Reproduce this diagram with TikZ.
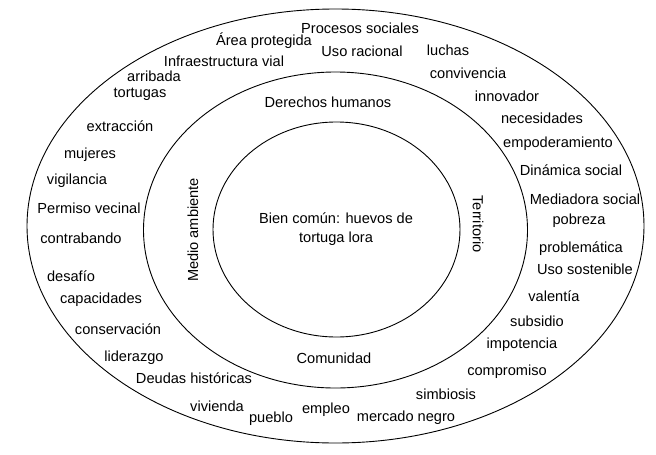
\documentclass[tikz,border=0pt]{standalone}
\usepackage{fontspec}
\setmainfont{Liberation Sans}
\begin{document}
\begin{tikzpicture}[x=1pt,y=-1pt,
	word/.style={inner sep=0pt,font=\fontsize{14.6}{19}\selectfont},
	ring/.style={black,line width=0.9pt}]
	\useasboundingbox (0,0) rectangle (656,455);
	% the three circles
	\draw [ring] (335.5,226) ellipse (308.5 and 217);
	\draw [ring] (335.5,230) ellipse (192 and 158);
	\draw [ring] (336.5,229.5) ellipse (123.5 and 107.5);
	% centre
	\node [word,align=center] (bien) at (336,229) {Bien común: huevos de\\tortuga lora};
	% middle ring
	\node [word] (derechos) at (328,102) {Derechos humanos};
	\node [word] (comunidad) at (334,358) {Comunidad};
	\node [word,rotate=90] (medio) at (193,230) {Medio ambiente};
	\node [word,rotate=-90] (territorio) at (478,224) {Territorio};
	% outer ring, left side
	\node [word] (procesos) at (360,28) {Procesos sociales};
	\node [word] (area) at (264,41) {Área protegida};
	\node [word] (uso) at (362,51) {Uso racional};
	\node [word] (infra) at (224,61) {Infraestructura vial};
	\node [word] (arribada) at (154,76) {arribada};
	\node [word] (tortugas) at (140,94) {tortugas};
	\node [word] (extraccion) at (120,126) {extracción};
	\node [word] (mujeres) at (90,155) {mujeres};
	\node [word] (vigilancia) at (77,181) {vigilancia};
	\node [word] (permiso) at (89,208) {Permiso vecinal};
	\node [word] (contrabando) at (81,238) {contrabando};
	\node [word] (desafio) at (71,276) {desafío};
	\node [word] (capacidades) at (101,300) {capacidades};
	\node [word] (conservacion) at (118,329) {conservación};
	\node [word] (liderazgo) at (134,358) {liderazgo};
	\node [word] (deudas) at (194,378) {Deudas históricas};
	\node [word] (vivienda) at (217,406) {vivienda};
	\node [word] (pueblo) at (271,419) {pueblo};
	\node [word] (empleo) at (326,410) {empleo};
	% outer ring, right side
	\node [word] (mercado) at (406,418) {mercado negro};
	\node [word] (simbiosis) at (446,394) {simbiosis};
	\node [word] (compromiso) at (507,372) {compromiso};
	\node [word] (impotencia) at (522,345) {impotencia};
	\node [word] (subsidio) at (537,321) {subsidio};
	\node [word] (valentia) at (554,296) {valentía};
	\node [word] (sostenible) at (585,269) {Uso sostenible};
	\node [word] (problematica) at (581,249) {problemática};
	\node [word] (pobreza) at (579,221) {pobreza};
	\node [word] (mediadora) at (585,199) {Mediadora social};
	\node [word] (dinamica) at (571,170) {Dinámica social};
	\node [word] (empoderamiento) at (558,144) {empoderamiento};
	\node [word] (necesidades) at (542,118) {necesidades};
	\node [word] (innovador) at (507,96) {innovador};
	\node [word] (convivencia) at (468,73) {convivencia};
	\node [word] (luchas) at (448,50) {luchas};
\end{tikzpicture}
\end{document}
